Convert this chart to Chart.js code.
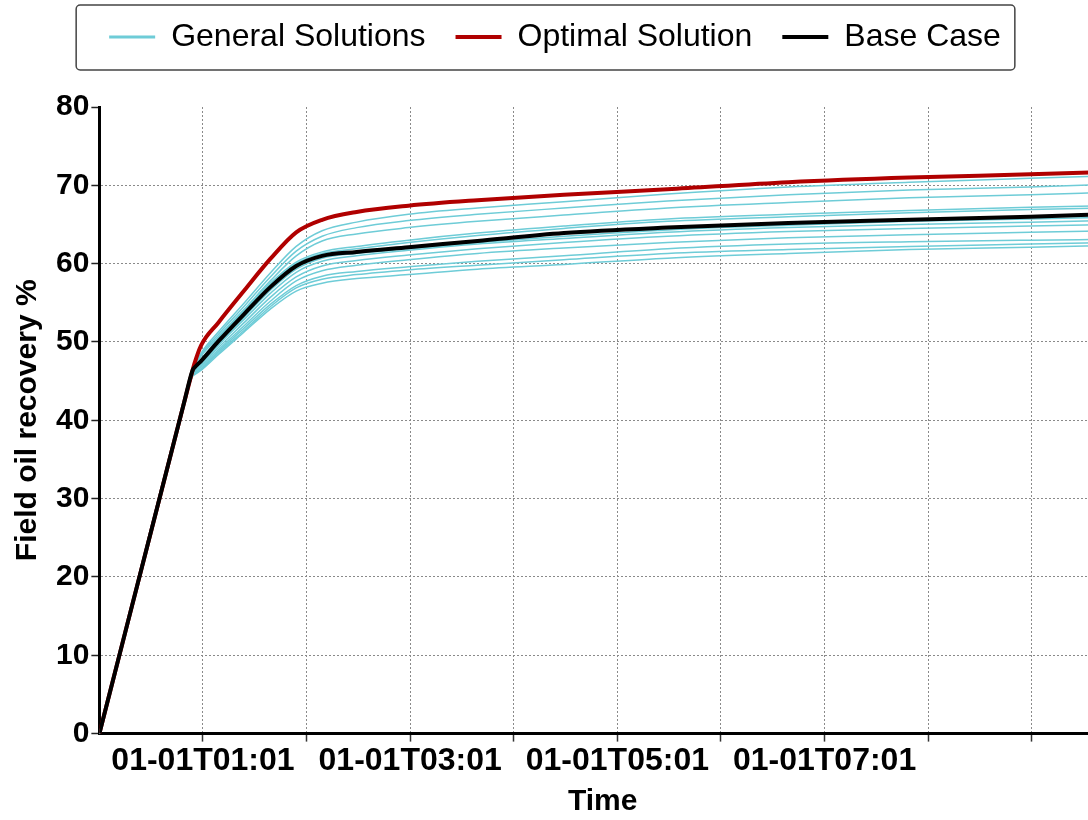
<!DOCTYPE html>
<html>
<head>
<meta charset="utf-8">
<script src="https://cdn.jsdelivr.net/npm/chart.js@4.4.1/dist/chart.umd.min.js"></script>
<style>
  html, body { margin: 0; padding: 0; background: #fff; overflow: hidden; }
  #wrap { position: relative; width: 1106px; height: 820px; }
</style>
</head>
<body>
<div id="wrap"><canvas id="recovery"></canvas></div>
<script>
// time axis in minutes after 01-01T00:00
const timeMinutes = [1, 50, 55, 56, 60, 70, 85, 100, 115, 130, 150, 180, 220, 270, 330, 400, 470, 540, 584];

const hourTicks = [61, 121, 181, 241, 301, 361, 421, 481, 541];
const tickLabels = ['01-01T01:01', '', '01-01T03:01', '', '01-01T05:01', '', '01-01T07:01', '', ''];

const baseCase = [0, 42.2, 46.4, 46.7, 47.6, 50.1, 53.6, 57.0, 59.7, 61.0, 61.5, 62.1, 62.9, 63.9, 64.6, 65.2, 65.6, 66.0, 66.3];
const optimalSolution = [0, 42.2, 46.4, 47.2, 49.6, 52.5, 56.6, 60.6, 64.0, 65.6, 66.6, 67.4, 68.1, 68.8, 69.5, 70.4, 71.0, 71.4, 71.7];

const generalSolutions = [
  [0, 42.2, 46.4, 46.8, 48.6, 51.3, 55.0, 58.8, 62.2, 64.2, 65.3, 66.3, 67.1, 67.9, 68.9, 69.8, 70.4, 70.9, 71.2],
  [0, 42.2, 46.4, 46.8, 48.4, 51.0, 54.6, 58.3, 61.6, 63.5, 64.6, 65.5, 66.3, 67.1, 68.0, 68.8, 69.4, 69.8, 70.1],
  [0, 42.2, 46.3, 46.7, 48.2, 50.7, 54.2, 57.8, 61.0, 62.9, 63.8, 64.6, 65.4, 66.2, 67.1, 67.8, 68.4, 68.8, 69.1],
  [0, 42.2, 46.4, 46.7, 47.8, 50.5, 54.0, 57.5, 60.2, 61.5, 62.2, 63.0, 63.9, 64.8, 65.7, 66.3, 66.8, 67.2, 67.4],
  [0, 42.2, 46.4, 46.7, 47.7, 50.3, 53.8, 57.3, 60.0, 61.3, 61.9, 62.7, 63.6, 64.5, 65.4, 66.0, 66.5, 66.9, 67.1],
  [0, 42.2, 46.3, 46.5, 47.3, 49.8, 53.2, 56.6, 59.3, 60.7, 61.3, 61.9, 62.7, 63.5, 64.3, 64.9, 65.4, 65.7, 65.9],
  [0, 42.2, 46.2, 46.4, 47.2, 49.6, 52.9, 56.2, 58.9, 60.3, 61.0, 61.7, 62.5, 63.2, 64.0, 64.6, 65.0, 65.3, 65.5],
  [0, 42.2, 46.0, 46.2, 47.0, 49.3, 52.5, 55.7, 58.3, 59.7, 60.4, 61.1, 61.9, 62.7, 63.5, 64.1, 64.5, 64.8, 65.0],
  [0, 42.2, 45.9, 46.1, 46.8, 49.0, 52.1, 55.2, 57.8, 59.1, 59.8, 60.5, 61.3, 62.0, 62.7, 63.3, 63.7, 64.0, 64.2],
  [0, 42.2, 45.8, 46.0, 46.6, 48.8, 51.8, 54.8, 57.2, 58.4, 59.0, 59.6, 60.3, 61.0, 61.9, 62.5, 62.8, 63.0, 63.1],
  [0, 42.2, 45.7, 45.9, 46.5, 48.6, 51.5, 54.5, 56.9, 58.0, 58.6, 59.2, 59.8, 60.5, 61.3, 61.8, 62.2, 62.5, 62.7],
  [0, 42.2, 45.6, 45.8, 46.4, 48.4, 51.3, 54.2, 56.5, 57.5, 58.1, 58.6, 59.3, 59.9, 60.7, 61.3, 61.8, 62.1, 62.3]
];

const toPoints = (values) => values.map((v, i) => ({ x: timeMinutes[i], y: v }));

const datasets = generalSolutions.map((values) => ({
  label: 'General Solutions',
  data: toPoints(values),
  borderColor: 'rgb(110, 204, 215)',
  borderWidth: 1.5,
  order: 2
}));
datasets.push({
  label: 'Optimal Solution',
  data: toPoints(optimalSolution),
  borderColor: '#b00000',
  borderWidth: 4,
  order: 1
});
datasets.push({
  label: 'Base Case',
  data: toPoints(baseCase),
  borderColor: '#000',
  borderWidth: 4,
  order: 0
});

// frame around the legend, plus some room between legend and plot
const legendFrame = {
  id: 'legendFrame',
  beforeInit(chart) {
    if (!chart.legend) return;
    const fit = chart.legend.fit;
    chart.legend.fit = function () {
      fit.call(this);
      this.height += 44;
    };
  },
  afterDraw(chart) {
    const boxes = chart.legend && chart.legend.legendHitBoxes;
    if (!boxes || !boxes.length) return;
    const first = boxes[0];
    const last = boxes[boxes.length - 1];
    const cy = first.top + first.height / 2;
    const x0 = first.left - 33;
    const x1 = last.left + last.width + 14;
    const ctx = chart.ctx;
    ctx.save();
    ctx.strokeStyle = '#444';
    ctx.lineWidth = 1.5;
    ctx.beginPath();
    ctx.roundRect(x0, cy - 32, x1 - x0, 65, 4);
    ctx.stroke();
    ctx.restore();
  }
};

const font = 'Liberation Sans, Arial, sans-serif';
Chart.defaults.color = '#000';

new Chart(document.getElementById('recovery'), {
  type: 'line',
  data: { datasets },
  options: {
    responsive: true,
    maintainAspectRatio: false,
    animation: false,
    layout: { padding: { top: -9, left: 4, right: 0, bottom: 0 } },
    elements: {
      point: { radius: 0, hoverRadius: 0 },
      line: { cubicInterpolationMode: 'monotone', fill: false }
    },
    plugins: {
      tooltip: { enabled: false },
      legend: {
        position: 'top',
        labels: {
          font: { family: font, size: 32 },
          color: '#000',
          usePointStyle: true,
          pointStyle: 'line',
          pointStyleWidth: 46,
          padding: 30,
          generateLabels: (chart) => Chart.defaults.plugins.legend.labels.generateLabels(chart)
            .map((item) => ({ ...item, lineWidth: Math.max(item.lineWidth, 3) })),
          filter: (item) => item.datasetIndex === 0 || item.datasetIndex >= generalSolutions.length,
          sort: (a, b) => a.datasetIndex - b.datasetIndex
        }
      }
    },
    scales: {
      x: {
        type: 'linear',
        min: 1,
        max: 584,
        afterBuildTicks: (scale) => {
          scale.ticks = hourTicks.map((v) => ({ value: v }));
        },
        ticks: {
          autoSkip: false,
          maxRotation: 0,
          padding: 0,
          font: { family: font, size: 32, weight: 'bold' },
          callback: (value) => tickLabels[hourTicks.indexOf(value)] || ''
        },
        grid: {
          color: '#8a8a8a',
          lineWidth: 1,
          tickLength: 8,
          tickColor: '#333',
          tickWidth: 1.5
        },
        border: { display: true, color: '#000', width: 3, dash: [2, 2] },
        title: {
          display: true,
          text: 'Time',
          font: { family: font, size: 30, weight: 'bold' },
          padding: { top: 4, bottom: 0 }
        }
      },
      y: {
        min: 0,
        max: 80,
        ticks: {
          stepSize: 10,
          padding: 2,
          font: { family: font, size: 30, weight: 'bold' }
        },
        grid: {
          color: (ctx) => (ctx.tick && ctx.tick.value === 80 ? 'rgba(0,0,0,0)' : '#8a8a8a'),
          lineWidth: 1,
          tickLength: 8,
          tickColor: '#222',
          tickWidth: 1.5
        },
        border: { display: true, color: '#000', width: 3, dash: [2, 2] },
        title: {
          display: true,
          text: 'Field oil recovery %',
          font: { family: font, size: 30, weight: 'bold' },
          padding: { top: 6, bottom: 8 }
        }
      }
    }
  },
  plugins: [legendFrame]
});
</script>
</body>
</html>
